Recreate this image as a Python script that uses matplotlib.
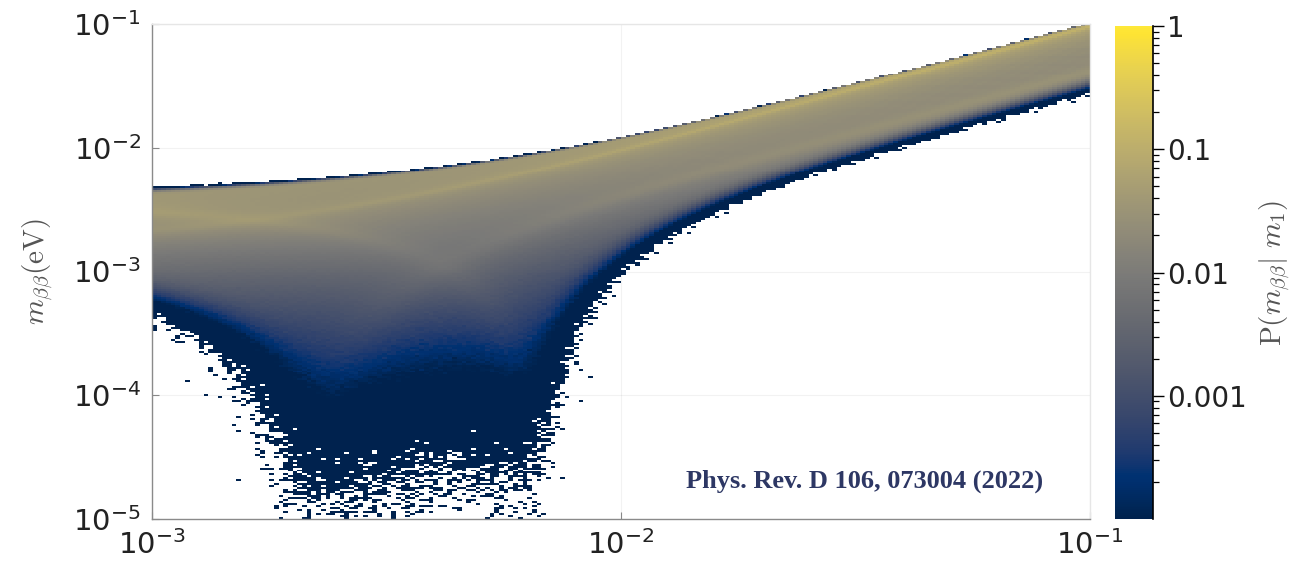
import numpy as np
import matplotlib
matplotlib.use('Agg')
import matplotlib.pyplot as plt
from matplotlib.colors import LogNorm
from matplotlib.lines import Line2D
from matplotlib.ticker import FixedLocator, NullFormatter

# ---------------- data / model inputs ----------------
m1_range = [1e-3, 1e-1]            # lightest neutrino mass (eV)
mbb_range = [1e-5, 1e-1]           # effective Majorana mass (eV)
n_m1_bins = 200
n_mbb_bins = 250
samples_per_bin = 400000

# normal-ordering oscillation parameters: [best fit, 1 sigma]
s12sq = [0.304, 0.012]
s13sq = [0.0222, 0.0007]
dm21 = [7.42e-5, 0.21e-5]
dm31 = [2.517e-3, 0.028e-3]

x_ticks = [1e-3, 1e-2, 1e-1]
x_ticklabels = [r'$10^{-3}$', r'$10^{-2}$', r'$10^{-1}$']
y_ticks = [1e-5, 1e-4, 1e-3, 1e-2, 1e-1]
y_ticklabels = [r'$10^{-5}$', r'$10^{-4}$', r'$10^{-3}$', r'$10^{-2}$', r'$10^{-1}$']
cbar_range = [1e-4, 1.0]
cbar_ticks = [1e-3, 1e-2, 1e-1, 1.0]
cbar_ticklabels = ['0.001', '0.01', '0.1', '1']
citation = 'Phys. Rev. D 106, 073004 (2022)'

# ---------------- conditional histogram P(mbb | m1) ----------------
# deterministic low-discrepancy (R_d) sequence for Majorana phases / parameters
d = 7
phi = 2.0
for _ in range(80):
    phi = (1.0 + phi) ** (1.0 / (d + 1))
alpha = (1.0 / phi) ** np.arange(1, d + 1)

x_edges = np.logspace(np.log10(m1_range[0]), np.log10(m1_range[1]), n_m1_bins + 1)
y_edges = np.logspace(np.log10(mbb_range[0]), np.log10(mbb_range[1]), n_mbb_bins + 1)
ly_edges = np.log10(y_edges)
lx0, lx1 = np.log10(m1_range)
H = np.zeros((n_mbb_bins, n_m1_bins))
N = samples_per_bin
base = np.arange(N, dtype=np.float64)
TWO_PI = 2 * np.pi
for j in range(n_m1_bins):
    n = base + j * N
    u = [np.mod(0.5 + n * a, 1.0) for a in alpha]
    r1 = np.sqrt(-2 * np.log(np.clip(u[0], 1e-15, 1.0)))
    r2 = np.sqrt(-2 * np.log(np.clip(u[2], 1e-15, 1.0)))
    g1 = r1 * np.cos(TWO_PI * u[1])
    g2 = r1 * np.sin(TWO_PI * u[1])
    g3 = r2 * np.cos(TWO_PI * u[3])
    g4 = r2 * np.sin(TWO_PI * u[3])
    a21 = TWO_PI * u[4]
    a31 = TWO_PI * u[5]
    m1 = 10 ** (lx0 + (j + u[6]) / n_m1_bins * (lx1 - lx0))
    t12 = s12sq[0] + s12sq[1] * g1
    t13 = s13sq[0] + s13sq[1] * g2
    D21 = dm21[0] + dm21[1] * g3
    D31 = dm31[0] + dm31[1] * g4
    m2 = np.sqrt(m1 ** 2 + D21)
    m3 = np.sqrt(m1 ** 2 + D31)
    c13 = 1 - t13
    A = (1 - t12) * c13 * m1
    B = t12 * c13 * m2
    C = t13 * m3
    re = A + B * np.cos(a21) + C * np.cos(a31)
    im = B * np.sin(a21) + C * np.sin(a31)
    lmbb = 0.5 * np.log10(re * re + im * im)
    h, _ = np.histogram(lmbb, bins=ly_edges)
    H[:, j] = h / N

Hm = np.ma.masked_where(H <= 0, H)

# ---------------- figure ----------------
W, Hpx = 1299, 572
fig = plt.figure(figsize=(W / 100, Hpx / 100), dpi=100)
ax = fig.add_axes([152 / W, (Hpx - 519) / Hpx, (1090 - 152) / W, (519 - 24) / Hpx])
cax = fig.add_axes([1115 / W, (Hpx - 519) / Hpx, (1153 - 1115) / W, (519 - 26) / Hpx])

cmap = plt.get_cmap('cividis').copy()
cmap.set_under(cmap(0.0))
cmap.set_bad((1, 1, 1, 0))

ax.grid(True, which='major', color='k', alpha=0.05, lw=0.8)
ax.set_axisbelow(True)
mesh = ax.pcolormesh(x_edges, y_edges, Hm, cmap=cmap,
                     norm=LogNorm(vmin=cbar_range[0], vmax=cbar_range[1]),
                     shading='flat', zorder=2)
ax.set_xscale('log')
ax.set_yscale('log')
ax.set_xlim(m1_range)
ax.set_ylim(mbb_range)
ax.set_xticks(x_ticks)
ax.set_xticklabels(x_ticklabels)
ax.set_yticks(y_ticks)
ax.set_yticklabels(y_ticklabels)
ax.minorticks_off()
ax.tick_params(axis='both', which='major', direction='in', length=5, width=0.8,
               color='#888888', labelsize=21, labelcolor='#222222', pad=8)
for t in ax.get_xticklabels() + ax.get_yticklabels():
    t.set_math_fontfamily('dejavusans')
for s in ['left', 'bottom']:
    ax.spines[s].set_color('#8a8a8a')
    ax.spines[s].set_linewidth(1.0)
for s in ['top', 'right']:
    ax.spines[s].set_color('#e6e6e6')
    ax.spines[s].set_linewidth(1.0)
for sp in ax.spines.values():
    sp.set_zorder(5)

ax.set_ylabel(r'$m_{\beta\beta}(\mathrm{eV})$', fontsize=21, color='#555555',
              math_fontfamily='cm', labelpad=12)

ax.text(0.760, 0.077, citation, transform=ax.transAxes, ha='center', va='center',
        fontsize=19, fontweight='bold', family='Liberation Serif', color='#2d3764', zorder=6)

cb = fig.colorbar(mesh, cax=cax)
cb.outline.set_visible(False)
cax.add_line(Line2D([1, 1], [0, 1], transform=cax.transAxes, color='k', lw=1.2, clip_on=False))
cb.set_ticks(cbar_ticks)
cb.set_ticklabels(cbar_ticklabels)
minor = [m * 10.0 ** e for e in range(-4, 0) for m in range(2, 10)]
cax.yaxis.set_minor_locator(FixedLocator(minor))
cax.yaxis.set_minor_formatter(NullFormatter())
cax.tick_params(axis='y', which='major', direction='out', length=8, width=1.0,
                labelsize=20, labelcolor='#222222', pad=2)
cax.tick_params(axis='y', which='minor', direction='out', length=4.5, width=0.9)
cb.set_label(r'$\mathrm{P}(m_{\beta\beta}|\ m_1)$', fontsize=21, color='#555555',
             math_fontfamily='cm', labelpad=8)

fig.savefig('out.png', dpi=100)
